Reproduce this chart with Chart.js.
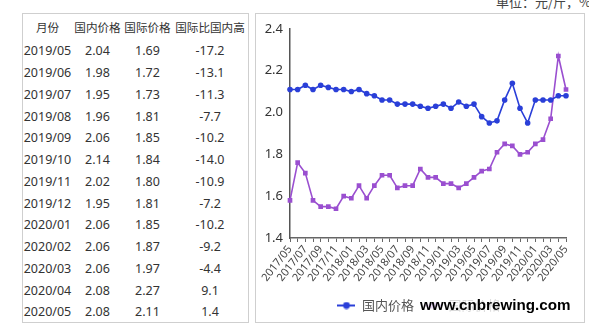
<!DOCTYPE html>
<html>
<head>
<meta charset="utf-8">
<title>国内外价格对比</title>
<script src="https://cdn.jsdelivr.net/npm/chart.js@4.4.1/dist/chart.umd.min.js"></script>
<style>
    body {
        margin: 0;
        width: 589px;
        height: 327px;
        background: #fff;
        position: relative;
        overflow: hidden;
        font-family: "Noto Sans", "Noto Sans CJK SC", sans-serif;
        color: #333;
    }
    #unit {
        position: absolute;
        right: -2px;
        top: -8px;
        font-size: 13px;
        font-family: "Noto Sans CJK SC", sans-serif;
        color: #444;
        white-space: nowrap;
    }
    #table-box {
        position: absolute;
        left: 22px;
        top: 13px;
        width: 225px;
        height: 308px;
        border: 1px solid #cfcfcf;
    }
    #table-box table {
        border-collapse: collapse;
        table-layout: fixed;
        width: 225px;
    }
    #table-box td, #table-box th {
        padding: 0;
        text-align: center;
        white-space: nowrap;
        font-weight: normal;
        font-size: 12.5px;
        height: 21.75px;
    }
    #table-box th {
        font-size: 11.6px;
        height: 26px;
        font-family: "Noto Sans CJK SC", sans-serif;
    }
    #chart-box {
        position: absolute;
        left: 255px;
        top: 13px;
        width: 328px;
        height: 308px;
        border: 1px solid #cfcfcf;
    }
    #myChart {
        position: absolute;
        left: 0;
        top: 0;
    }
    #mark {
        position: absolute;
        left: 418px;
        top: 296px;
        padding: 0 2px;
        font: bold 15.2px "Liberation Sans", Arial, sans-serif;
        line-height: 17px;
        color: #000;
        background: rgba(255, 255, 255, 0.78);
        white-space: nowrap;
    }
</style>
</head>
<body>
<div id="unit">单位：元/斤，%</div>
<div id="table-box">
    <table>
        <colgroup><col style="width:49px"><col style="width:51px"><col style="width:49px"><col style="width:76px"></colgroup>
        <thead><tr><th>月份</th><th>国内价格</th><th>国际价格</th><th>国际比国内高</th></tr></thead>
        <tbody></tbody>
    </table>
</div>
<div id="chart-box"><canvas id="myChart" width="328" height="308"></canvas></div>
<div id="mark">www.cnbrewing.com</div>

<script>
let months = [
    "2017/05", "2017/06", "2017/07", "2017/08", "2017/09", "2017/10", "2017/11", "2017/12",
    "2018/01", "2018/02", "2018/03", "2018/04", "2018/05", "2018/06", "2018/07", "2018/08",
    "2018/09", "2018/10", "2018/11", "2018/12", "2019/01", "2019/02", "2019/03", "2019/04",
    "2019/05", "2019/06", "2019/07", "2019/08", "2019/09", "2019/10", "2019/11", "2019/12",
    "2020/01", "2020/02", "2020/03", "2020/04", "2020/05"
];

// 国内价格（元/斤）
let domestic = [
    2.11, 2.11, 2.13, 2.11, 2.13, 2.12, 2.11, 2.11,
    2.10, 2.11, 2.09, 2.08, 2.06, 2.06, 2.04, 2.04,
    2.04, 2.03, 2.02, 2.03, 2.04, 2.02, 2.05, 2.03,
    2.04, 1.98, 1.95, 1.96, 2.06, 2.14, 2.02, 1.95,
    2.06, 2.06, 2.06, 2.08, 2.08
];

// 国际价格（元/斤）
let intl = [
    1.58, 1.76, 1.71, 1.58, 1.55, 1.55, 1.54, 1.60,
    1.59, 1.65, 1.59, 1.65, 1.70, 1.70, 1.64, 1.65,
    1.65, 1.73, 1.69, 1.69, 1.66, 1.66, 1.64, 1.66,
    1.69, 1.72, 1.73, 1.81, 1.85, 1.84, 1.80, 1.81,
    1.85, 1.87, 1.97, 2.27, 2.11
];

// 国际比国内高（%），表格最近13个月
let gap = [-17.2, -13.1, -11.3, -7.7, -10.2, -14.0, -10.9, -7.2, -10.2, -9.2, -4.4, 9.1, 1.4];

let yTicks = [1.4, 1.6, 1.8, 2.0, 2.2, 2.4];

let blue = '#2a3fd8';
let purple = '#9a4fd0';

// 表格
let n = gap.length;
let rows = "";
for (let i = 0; i < n; i++) {
    let k = months.length - n + i;
    rows += `<tr><td>${months[k]}</td><td>${domestic[k].toFixed(2)}</td><td>${intl[k].toFixed(2)}</td><td>${gap[i].toFixed(1)}</td></tr>`;
}
document.querySelector('#table-box tbody').innerHTML = rows;

// 图例里的 -●- / -■- 小图标
function legendIcon(color, square) {
    let c = document.createElement('canvas');
    c.width = 18;
    c.height = 8;
    let g = c.getContext('2d');
    g.strokeStyle = color;
    g.fillStyle = color;
    g.lineWidth = 2;
    g.beginPath();
    g.moveTo(0, 4);
    g.lineTo(18, 4);
    g.stroke();
    if (square) {
        g.fillRect(6, 1, 6, 6);
    } else {
        g.beginPath();
        g.arc(9, 4, 3.4, 0, Math.PI * 2);
        g.fill();
    }
    return c;
}
let icons = [legendIcon(blue, false), legendIcon(purple, true)];

// 图例往右挪一点，居中在绘图区下方
let legendShift = {
    id: 'legendShift',
    afterLayout: function (chart) {
        chart.legend.left += 8;
        chart.legend.right += 8;
    }
};

let ctx = document.getElementById('myChart').getContext('2d');

let myChart = new Chart(ctx, {
    type: 'line',
    data: {
        labels: months,
        datasets: [{
            label: '国内价格',
            data: domestic,
            borderColor: blue,
            backgroundColor: blue,
            borderWidth: 1.6,
            pointStyle: 'circle',
            pointRadius: 2.8,
            pointBorderWidth: 0,
            tension: 0
        }, {
            label: '国际价格',
            data: intl,
            borderColor: purple,
            backgroundColor: purple,
            borderWidth: 1.6,
            pointStyle: 'rect',
            pointRadius: 3.3,
            pointBorderWidth: 0,
            tension: 0
        }]
    },
    plugins: [legendShift],
    options: {
        responsive: false,
        animation: false,
        layout: {
            padding: { top: 14, right: 18, bottom: 0, left: 0 }
        },
        plugins: {
            tooltip: { enabled: false },
            legend: {
                position: 'bottom',
                labels: {
                    usePointStyle: true,
                    pointStyleWidth: 18,
                    padding: 10,
                    color: '#555',
                    font: { family: '"Noto Sans CJK SC", sans-serif', size: 13 },
                    generateLabels: function (chart) {
                        let items = Chart.defaults.plugins.legend.labels.generateLabels(chart);
                        items.forEach((item, i) => { item.pointStyle = icons[i]; });
                        return items;
                    }
                }
            }
        },
        scales: {
            x: {
                offset: false,
                afterFit: function (s) { s.height = 51; },
                grid: {
                    display: true,
                    drawOnChartArea: false,
                    drawTicks: true,
                    tickLength: 4,
                    color: '#666'
                },
                border: { display: true, color: '#666', width: 1.5 },
                ticks: {
                    autoSkip: false,
                    minRotation: 52,
                    maxRotation: 52,
                    padding: 1,
                    color: '#444',
                    font: { family: '"Noto Sans", sans-serif', size: 11 },
                    callback: function (value, index) {
                        return index % 2 == 0 ? months[index] : '';
                    }
                }
            },
            y: {
                min: yTicks[0],
                max: yTicks[yTicks.length - 1],
                afterFit: function (s) { s.width = 34; },
                afterBuildTicks: function (s) {
                    s.ticks = yTicks.map(v => ({ value: v }));
                },
                grid: { display: false, drawTicks: false },
                border: { display: true, color: '#555', width: 1.5 },
                ticks: {
                    padding: 7,
                    color: '#333',
                    font: { family: '"Noto Sans", sans-serif', size: 13 },
                    callback: function (value) {
                        return value.toFixed(1);
                    }
                }
            }
        }
    }
});
</script>
</body>
</html>
